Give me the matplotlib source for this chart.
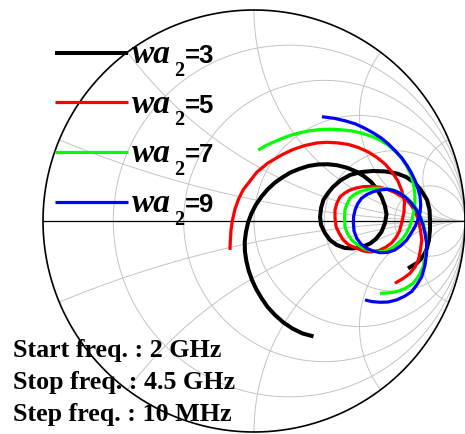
import numpy as np
import matplotlib
matplotlib.use("Agg")
import matplotlib.pyplot as plt

# Reflection coefficient traces (real, imaginary), 2 GHz -> 4.5 GHz
wa3_re = [0.282, 0.230, 0.181, 0.137, 0.099, 0.064, 0.036, 0.011, -0.009, -0.025,
          -0.036, -0.043, -0.044, -0.038, -0.028, -0.012, 0.009, 0.035, 0.064, 0.098,
          0.135, 0.173, 0.215, 0.259, 0.304, 0.350, 0.395, 0.439, 0.481, 0.520,
          0.555, 0.583, 0.605, 0.620, 0.628,
          0.621, 0.604, 0.578, 0.550, 0.512, 0.469, 0.431, 0.393, 0.360, 0.336,
          0.318, 0.313, 0.318, 0.329, 0.351, 0.374, 0.412, 0.455, 0.507, 0.564,
          0.621, 0.678, 0.720, 0.763, 0.791, 0.820, 0.832, 0.834, 0.834, 0.829,
          0.820, 0.810, 0.791, 0.773, 0.749, 0.730]
wa3_im = [-0.547, -0.533, -0.509, -0.479, -0.445, -0.407, -0.366, -0.324, -0.281, -0.236,
          -0.191, -0.144, -0.098, -0.052, -0.007, 0.036, 0.077, 0.115, 0.149, 0.181,
          0.207, 0.230, 0.247, 0.261, 0.268, 0.269, 0.264, 0.253, 0.236, 0.213,
          0.185, 0.151, 0.113, 0.073, 0.032,
          -0.009, -0.052, -0.085, -0.107, -0.123, -0.130, -0.128, -0.114, -0.090, -0.057,
          -0.019, 0.019, 0.062, 0.100, 0.133, 0.161, 0.194, 0.218, 0.232, 0.237,
          0.235, 0.225, 0.209, 0.180, 0.147, 0.100, 0.052, 0.005, -0.043, -0.090,
          -0.128, -0.152, -0.180, -0.199, -0.213, -0.225]

wa5_re = [-0.114, -0.112, -0.109, -0.102, -0.090, -0.073, -0.052, -0.021, 0.014, 0.066,
          0.131, 0.185, 0.242, 0.299, 0.346, 0.398, 0.447, 0.495, 0.542, 0.583,
          0.621, 0.654, 0.682, 0.701, 0.713, 0.711, 0.701, 0.690, 0.673, 0.652,
          0.626, 0.592, 0.555, 0.517, 0.487, 0.450, 0.423, 0.403, 0.389, 0.384,
          0.384, 0.393, 0.408, 0.431, 0.455, 0.483, 0.518, 0.555, 0.597, 0.635,
          0.676, 0.711, 0.739, 0.763, 0.779, 0.789, 0.795, 0.789, 0.779, 0.763,
          0.739, 0.706, 0.668]
wa5_im = [-0.137, -0.090, -0.043, 0.005, 0.057, 0.104, 0.147, 0.187, 0.232, 0.275,
          0.313, 0.339, 0.358, 0.370, 0.373, 0.370, 0.363, 0.348, 0.327, 0.301,
          0.270, 0.232, 0.190, 0.142, 0.095, 0.043, -0.005, -0.047, -0.078, -0.104,
          -0.123, -0.140, -0.147, -0.142, -0.129, -0.114, -0.090, -0.057, -0.027, 0.014,
          0.052, 0.085, 0.115, 0.133, 0.147, 0.156, 0.163, 0.164, 0.160, 0.149,
          0.131, 0.109, 0.084, 0.047, 0.005, -0.043, -0.090, -0.137, -0.185, -0.218,
          -0.248, -0.273, -0.295]

wa7_re = [0.020, 0.057, 0.100, 0.137, 0.179, 0.225, 0.273, 0.320, 0.368, 0.415,
          0.463, 0.512, 0.558, 0.600, 0.636, 0.671, 0.700, 0.725, 0.744, 0.756,
          0.762, 0.763, 0.758, 0.749, 0.737, 0.720, 0.699, 0.673, 0.645, 0.611,
          0.582, 0.550, 0.518, 0.488, 0.463, 0.443, 0.431, 0.429, 0.431, 0.441,
          0.455, 0.476, 0.502, 0.533, 0.565, 0.604, 0.645, 0.678, 0.708, 0.737,
          0.763, 0.784, 0.802, 0.813, 0.818, 0.815, 0.802, 0.782, 0.755, 0.716,
          0.676, 0.635, 0.597]
wa7_im = [0.336, 0.358, 0.377, 0.393, 0.408, 0.420, 0.429, 0.434, 0.435, 0.432,
          0.427, 0.416, 0.401, 0.382, 0.359, 0.329, 0.296, 0.258, 0.218, 0.175,
          0.133, 0.090, 0.047, 0.007, -0.028, -0.062, -0.090, -0.114, -0.133, -0.145,
          -0.145, -0.140, -0.129, -0.111, -0.090, -0.059, -0.027, 0.014, 0.052, 0.081,
          0.108, 0.126, 0.139, 0.149, 0.155, 0.155, 0.150, 0.140, 0.123, 0.097,
          0.068, 0.031, -0.011, -0.057, -0.106, -0.161, -0.217, -0.258, -0.295, -0.320,
          -0.335, -0.341, -0.343]

wa9_re = [0.322, 0.379, 0.431, 0.481, 0.526, 0.566, 0.605, 0.637, 0.668, 0.699,
          0.724, 0.745, 0.763, 0.777, 0.787, 0.790, 0.787, 0.777, 0.763, 0.744,
          0.724, 0.697, 0.668, 0.633, 0.597, 0.564, 0.534, 0.507, 0.487, 0.474,
          0.471, 0.472, 0.479, 0.491, 0.510, 0.536, 0.565, 0.597, 0.629, 0.661,
          0.692, 0.720, 0.747, 0.768, 0.787, 0.801, 0.810, 0.818, 0.818, 0.810,
          0.795, 0.773, 0.747, 0.711, 0.676, 0.635, 0.597, 0.559, 0.526]
wa9_im = [0.494, 0.487, 0.475, 0.460, 0.439, 0.417, 0.392, 0.365, 0.334, 0.301,
          0.265, 0.230, 0.192, 0.154, 0.115, 0.076, 0.040, 0.005, -0.027, -0.059,
          -0.090, -0.116, -0.137, -0.149, -0.150, -0.142, -0.129, -0.109, -0.082, -0.047,
          -0.011, 0.021, 0.052, 0.081, 0.108, 0.126, 0.139, 0.147, 0.150, 0.145,
          0.131, 0.111, 0.084, 0.055, 0.020, -0.019, -0.058, -0.104, -0.153, -0.211,
          -0.264, -0.301, -0.335, -0.358, -0.374, -0.384, -0.385, -0.382, -0.374]

series_labels = ["3", "5", "7", "9"]
series_colors = ["#000000", "#ff0000", "#00ff00", "#0000ff"]
series_re = [wa3_re, wa5_re, wa7_re, wa9_re]
series_im = [wa3_im, wa5_im, wa7_im, wa9_im]
series_lw = [2.9, 2.3, 2.3, 2.3]

info_lines = ["Start freq. : 2 GHz", "Stop freq. : 4.5 GHz", "Step freq. : 10 MHz"]

grid_values = [0.2, 0.5, 1.0, 2.0, 5.0]

W, H = 465, 434
fig = plt.figure(figsize=(W / 100, H / 100), dpi=100)
ax = fig.add_axes([43 / W, 2 / H, 422 / W, 422 / H])
ax.set_xlim(-1, 1)
ax.set_ylim(-1, 1)
ax.axis("off")

# constant-resistance circles and constant-reactance arcs
grid_kw = dict(color="#c4c4c4", lw=0.7, zorder=1)
t = np.linspace(-np.pi / 2 + 1e-4, np.pi / 2 - 1e-4, 800)
tp = np.linspace(0, np.pi / 2 - 1e-4, 800)
for r in grid_values:
    z = r + 1j * np.tan(t)
    g = (z - 1) / (z + 1)
    ax.plot(g.real, g.imag, **grid_kw)
for x in grid_values:
    for s in (1, -1):
        z = np.tan(tp) + 1j * s * x
        g = (z - 1) / (z + 1)
        ax.plot(g.real, g.imag, **grid_kw)

ang = np.linspace(0, 2 * np.pi, 1000)
ax.plot(np.cos(ang), np.sin(ang), color="black", lw=1.2, zorder=2, clip_on=False)
ax.plot([-1, 1], [0, 0], color="black", lw=0.9, zorder=2, clip_on=False)

for re, im, c, lw in zip(series_re, series_im, series_colors, series_lw):
    ax.plot(re, im, color=c, lw=lw, solid_capstyle="butt", solid_joinstyle="round", zorder=3)

serif = "Liberation Serif"
sans = "Liberation Sans"


def fx(px):
    return px / W


def fy(py):
    return 1 - py / H


for i, (lab, c, lw) in enumerate(zip(series_labels, series_colors, series_lw)):
    base = 63 + 49.7 * i
    ly = base - 10.5
    fig.add_artist(plt.Line2D([fx(55), fx(128)], [fy(ly), fy(ly)], color=c, lw=lw,
                              solid_capstyle="butt", zorder=5))
    fig.text(fx(132), fy(base), "wa", family=serif, weight="bold", style="italic",
             fontsize=24, va="baseline", ha="left", zorder=6)
    fig.text(fx(174), fy(base + 12.5), "2", family=serif, weight="bold",
             fontsize=14.5, va="baseline", ha="left", zorder=6)
    fig.text(fx(185), fy(base), "=" + lab, family=sans, weight="bold",
             fontsize=18.5, va="baseline", ha="left", zorder=6)

for i, line in enumerate(info_lines):
    fig.text(fx(13), fy(356.7 + 32 * i), line, family=serif, weight="bold",
             fontsize=18.7, va="baseline", ha="left", zorder=6)

fig.savefig("out.png", dpi=100, facecolor="white")
